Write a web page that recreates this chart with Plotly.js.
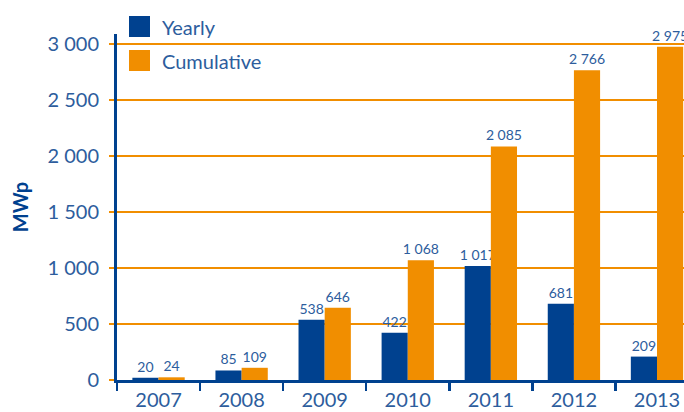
<!DOCTYPE html>
<html>
<head>
<meta charset="utf-8">
<script src="https://cdn.plot.ly/plotly-3.0.1.min.js"></script>
<style>
  html, body { margin: 0; padding: 0; background: #fff; }
  #chart { width: 684px; height: 412px; }
</style>
</head>
<body>
<div id="chart"></div>
<script>
const years = ["2007", "2008", "2009", "2010", "2011", "2012", "2013"];
const yearly = [20, 85, 538, 422, 1017, 681, 209];
const cumulative = [24, 109, 646, 1068, 2085, 2766, 2975];
const seriesNames = ["Yearly", "Cumulative"];

const blue = "#00418f";
const orange = "#f18e00";
const textBlue = "#2d5d9d";
const font = "Lato, 'Open Sans', sans-serif";

const traces = [
  {
    type: "bar",
    name: seriesNames[0],
    x: years,
    y: yearly,
    marker: { color: blue },
    texttemplate: "%{y:,d}",
    textposition: "outside",
    constraintext: "none",
    textfont: { family: font, size: 14, color: textBlue },
    cliponaxis: false,
    hoverinfo: "x+y"
  },
  {
    type: "bar",
    name: seriesNames[1],
    x: years,
    y: cumulative,
    marker: { color: orange },
    texttemplate: "%{y:,d}",
    textposition: "outside",
    constraintext: "none",
    textfont: { family: font, size: 14, color: textBlue },
    cliponaxis: false,
    hoverinfo: "x+y"
  }
];

const layout = {
  width: 684,
  height: 412,
  margin: { l: 117, r: 0, t: 34, b: 32 },
  paper_bgcolor: "#fff",
  plot_bgcolor: "#fff",
  separators: ". ",
  barmode: "group",
  bargap: 0.37,
  bargroupgap: 0,
  showlegend: false,
  font: { family: font, color: textBlue },
  xaxis: {
    type: "category",
    range: [-0.5, 6.325],
    showgrid: false,
    showline: true,
    linecolor: blue,
    linewidth: 3,
    ticks: "outside",
    tickson: "boundaries",
    ticklen: 8,
    tickwidth: 2.5,
    tickcolor: blue,
    tickfont: { family: font, size: 20, color: textBlue },
    ticklabelstandoff: 0
  },
  yaxis: {
    range: [0, 3089],
    tickvals: [0, 500, 1000, 1500, 2000, 2500, 3000],
    tickformat: ",d",
    showgrid: true,
    gridcolor: orange,
    gridwidth: 1.5,
    zeroline: false,
    showline: true,
    linecolor: blue,
    linewidth: 3,
    ticks: "outside",
    ticklen: 5,
    tickwidth: 1.5,
    tickcolor: orange,
    tickfont: { family: font, size: 20, color: textBlue },
    ticklabelstandoff: 6,
    title: {
      text: "<b>MWp</b>",
      font: { family: font, size: 20, color: blue },
      standoff: 14
    }
  },
  shapes: [
    { type: "rect", xref: "paper", yref: "paper",
      x0: 12 / 567, x1: 33 / 567, y0: (346 - 3) / 346, y1: (346 + 18) / 346,
      fillcolor: blue, line: { width: 0 } },
    { type: "rect", xref: "paper", yref: "paper",
      x0: 12 / 567, x1: 33 / 567, y0: (346 - 37) / 346, y1: (346 - 16) / 346,
      fillcolor: orange, line: { width: 0 } }
  ],
  annotations: [
    { xref: "paper", yref: "paper", x: 43 / 567, y: (346 + 7) / 346,
      xanchor: "left", yanchor: "middle", showarrow: false,
      text: seriesNames[0], font: { family: font, size: 20, color: textBlue } },
    { xref: "paper", yref: "paper", x: 43 / 567, y: (346 - 27) / 346,
      xanchor: "left", yanchor: "middle", showarrow: false,
      text: seriesNames[1], font: { family: font, size: 20, color: textBlue } }
  ]
};

Plotly.newPlot("chart", traces, layout, { displayModeBar: false, staticPlot: true });
</script>
</body>
</html>
